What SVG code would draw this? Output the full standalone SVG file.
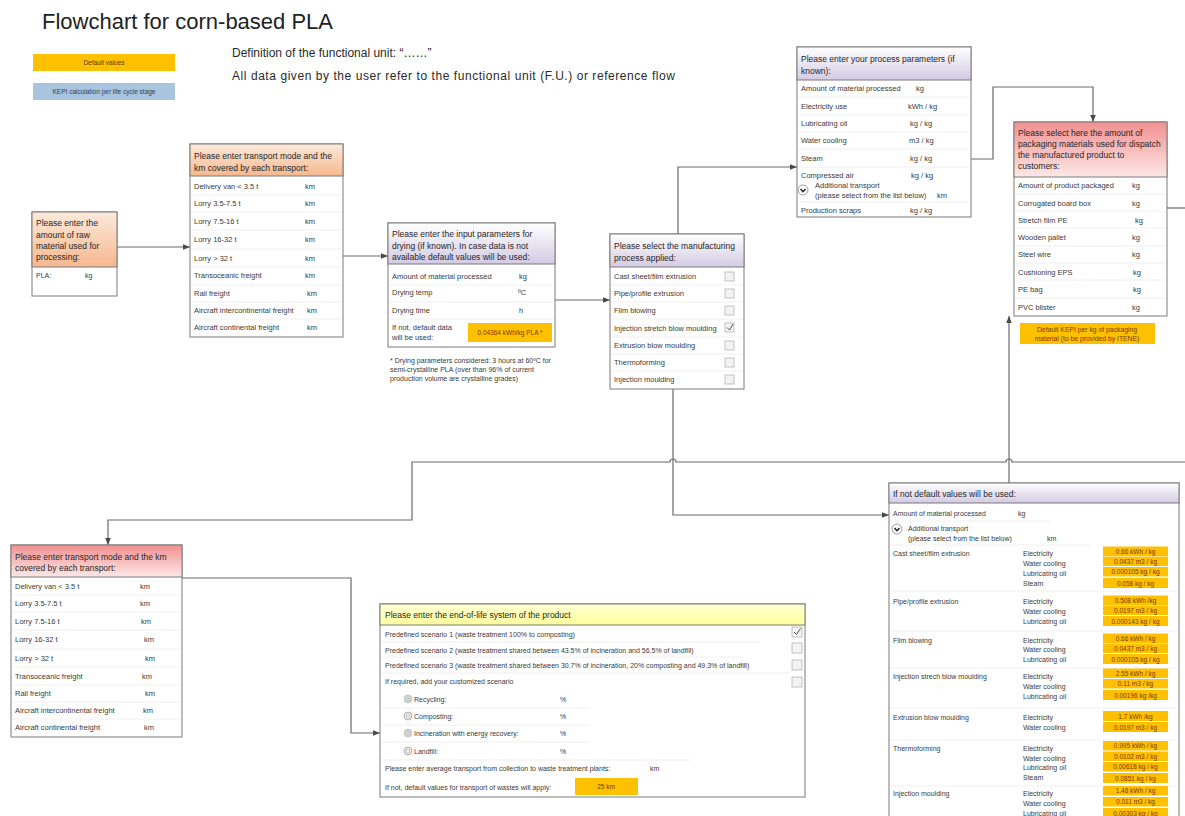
<svg xmlns="http://www.w3.org/2000/svg" width="1185" height="816" viewBox="0 0 1185 816">
<defs>
<linearGradient id="gOr" x1="0" y1="0" x2="0" y2="1"><stop offset="0" stop-color="#fdeadb"/><stop offset="1" stop-color="#f5b88f"/></linearGradient>
<linearGradient id="gPu" x1="0" y1="0" x2="0" y2="1"><stop offset="0" stop-color="#ffffff"/><stop offset="1" stop-color="#d3cbe4"/></linearGradient>
<linearGradient id="gRe" x1="0" y1="0" x2="0" y2="1"><stop offset="0" stop-color="#f29090"/><stop offset="1" stop-color="#fde8e8"/></linearGradient>
<linearGradient id="gYe" x1="0" y1="0" x2="0" y2="1"><stop offset="0" stop-color="#ffffd4"/><stop offset="1" stop-color="#ffff9c"/></linearGradient>
<marker id="arr" viewBox="0 0 10 10" refX="10" refY="5" markerWidth="7" markerHeight="7" orient="auto" markerUnits="userSpaceOnUse"><path d="M0,1 L10,5 L0,9 z" fill="#4a4a4a"/></marker>
</defs>
<style>
text{font-family:"Liberation Sans",Arial,sans-serif;fill:#3a3a3a}
.box{fill:#ffffff;stroke:#7a7a7a;stroke-width:1}
.hb{stroke:#7a7a7a;stroke-width:1}
.h{font-size:8.5px;fill:#262626}
.r{font-size:7.5px}
.s{font-size:7px}
.sep{stroke:#ececec;stroke-width:0.8}
.conn{fill:none;stroke:#6a6a6a;stroke-width:1.2}
.val{fill:#ffc000}
.vt{font-size:6.5px;fill:#7a3a00;text-anchor:middle}
.cb{fill:#f3f3f3;stroke:#b5b5b5;stroke-width:0.8}
.ck{fill:none;stroke:#555;stroke-width:1}
</style>
<rect x="0" y="0" width="1185" height="816" fill="#ffffff"/>

<g id="header">
<text x="42" y="29" style="font-size:22px;fill:#222">Flowchart for corn-based PLA</text>
<text x="232" y="57" style="font-size:12px;fill:#2a2a2a">Definition of the functional unit: “……”</text>
<text x="232" y="80" style="font-size:12px;fill:#2a2a2a" textLength="443">All data given by the user refer to the functional unit (F.U.) or reference flow</text>
</g>

<g id="legend">
<rect x="33" y="54" width="142" height="17" fill="#ffc000"/>
<text x="104" y="65" style="font-size:6.5px;fill:#5a3a00" text-anchor="middle">Default values</text>
<rect x="33" y="83" width="142" height="17" fill="#a9c4df"/>
<text x="104" y="94" style="font-size:6.5px;fill:#2f3f55" text-anchor="middle">KEPI calculation per life cycle stage</text>
</g>

<g id="connectors">
<path class="conn" d="M117,247 H190" marker-end="url(#arr)"/>
<path class="conn" d="M337,256 H388" marker-end="url(#arr)"/>
<path class="conn" d="M555,300 H610" marker-end="url(#arr)"/>
<path class="conn" d="M678,234 V167 H797" marker-end="url(#arr)"/>
<path class="conn" d="M971,159 H993 V87 H1093 V122" marker-end="url(#arr)"/>
<path class="conn" d="M1167,208 H1185"/>
<path class="conn" d="M1185,462 H1012 A3,3 0 0 0 1006,462 H676 A3,3 0 0 0 670,462 H412 V520 H108 V545" marker-end="url(#arr)"/>
<path class="conn" d="M673,389 V515 H889" marker-end="url(#arr)"/>
<path class="conn" d="M1009,483 V316" marker-end="url(#arr)"/>
<path class="conn" d="M182,578 H351 V733 H380" marker-end="url(#arr)"/>
</g>

<g id="raw-material">
<rect x="32" y="212" width="85" height="84" class="box"/>
<rect x="32" y="212" width="85" height="55" fill="url(#gOr)" class="hb"/>
<text class="h" x="36" y="226">Please enter the</text>
<text class="h" x="36" y="238">amount of raw</text>
<text class="h" x="36" y="249">material used for</text>
<text class="h" x="36" y="260">processing:</text>
<text class="s" x="36" y="278">PLA:</text>
<text class="s" x="85" y="278">kg</text>
</g>

<g id="transport-1">
<rect x="190" y="144" width="153" height="193" class="box"/>
<rect x="190" y="144" width="153" height="32" fill="url(#gOr)" class="hb"/>
<text class="h" x="194" y="159">Please enter transport mode and the</text>
<text class="h" x="194" y="171">km covered by each transport:</text>
<g class="sep"><line x1="191" y1="195" x2="342" y2="195"/><line x1="191" y1="212" x2="342" y2="212"/><line x1="191" y1="230" x2="342" y2="230"/><line x1="191" y1="249" x2="342" y2="249"/><line x1="191" y1="267" x2="342" y2="267"/><line x1="191" y1="285" x2="342" y2="285"/><line x1="191" y1="302" x2="342" y2="302"/><line x1="191" y1="319" x2="342" y2="319"/></g>
<text class="r" x="194" y="189">Delivery van &lt; 3.5 t</text><text class="r" x="305" y="189">km</text>
<text class="r" x="194" y="206">Lorry 3.5-7.5 t</text><text class="r" x="305" y="206">km</text>
<text class="r" x="194" y="224">Lorry 7.5-16 t</text><text class="r" x="305" y="224">km</text>
<text class="r" x="194" y="242">Lorry 16-32 t</text><text class="r" x="305" y="242">km</text>
<text class="r" x="194" y="261">Lorry &gt; 32 t</text><text class="r" x="305" y="261">km</text>
<text class="r" x="194" y="278">Transoceanic  freight</text><text class="r" x="305" y="278">km</text>
<text class="r" x="194" y="296">Rail freight</text><text class="r" x="307" y="296">km</text>
<text class="r" x="194" y="313">Aircraft intercontinental freight</text><text class="r" x="307" y="313">km</text>
<text class="r" x="194" y="330">Aircraft continental freight</text><text class="r" x="307" y="330">km</text>
</g>

<g id="drying">
<rect x="388" y="223" width="167" height="124" class="box"/>
<rect x="388" y="223" width="167" height="41" fill="url(#gPu)" class="hb"/>
<text class="h" x="392" y="237">Please enter the input parameters for</text>
<text class="h" x="392" y="249">drying (if known). In case data is not</text>
<text class="h" x="392" y="260">available default values will be used:</text>
<g class="sep"><line x1="389" y1="285" x2="554" y2="285"/><line x1="389" y1="302" x2="554" y2="302"/><line x1="389" y1="319" x2="554" y2="319"/></g>
<text class="r" x="392" y="279">Amount of material processed</text><text class="r" x="519" y="279">kg</text>
<text class="r" x="392" y="295">Drying temp</text><text class="r" x="518" y="295">ºC</text>
<text class="r" x="392" y="313">Drying time</text><text class="r" x="519" y="313">h</text>
<text class="r" x="392" y="330">If not, default data</text>
<text class="r" x="392" y="340">will be used:</text>
<rect class="val" x="468" y="323" width="84" height="19"/>
<text class="vt" x="510" y="335">0.04364 kWh/kg PLA *</text>
</g>

<g id="drying-note">
<text class="s" x="390" y="363">* Drying parameters considered: 3 hours at 60ºC for</text>
<text class="s" x="390" y="372">semi-crystalline PLA (over than 96% of current</text>
<text class="s" x="390" y="381">production volume are crystalline grades)</text>
</g>

<g id="manufacturing">
<rect x="610" y="234" width="134" height="155" class="box"/>
<rect x="610" y="234" width="134" height="33" fill="url(#gPu)" class="hb"/>
<text class="h" x="614" y="249">Please select the manufacturing</text>
<text class="h" x="614" y="261">process applied:</text>
<g class="sep"><line x1="611" y1="285" x2="743" y2="285"/><line x1="611" y1="302" x2="743" y2="302"/><line x1="611" y1="319" x2="743" y2="319"/><line x1="611" y1="337" x2="743" y2="337"/><line x1="611" y1="354" x2="743" y2="354"/><line x1="611" y1="371" x2="743" y2="371"/></g>
<text class="r" x="614" y="279">Cast sheet/film extrusion</text><rect class="cb" x="725" y="272" width="9" height="9"/>
<text class="r" x="614" y="296">Pipe/profile extrusion</text><rect class="cb" x="725" y="289" width="9" height="9"/>
<text class="r" x="614" y="313">Film blowing</text><rect class="cb" x="725" y="306" width="9" height="9"/>
<text class="r" x="614" y="331">Injection stretch blow moulding</text><rect class="cb" x="725" y="323" width="9" height="9"/><path class="ck" d="M727,327.5 L729.5,330 L733,324"/>
<text class="r" x="614" y="348">Extrusion blow moulding</text><rect class="cb" x="725" y="341" width="9" height="9"/>
<text class="r" x="614" y="365">Thermoforming</text><rect class="cb" x="725" y="358" width="9" height="9"/>
<text class="r" x="614" y="382">Injection moulding</text><rect class="cb" x="725" y="375" width="9" height="9"/>
</g>

<g id="process-parameters">
<rect x="797" y="47" width="174" height="170" class="box"/>
<rect x="797" y="47" width="174" height="33" fill="url(#gPu)" class="hb"/>
<text class="h" x="801" y="62">Please enter your process parameters (if</text>
<text class="h" x="801" y="74">known):</text>
<g class="sep"><line x1="798" y1="97" x2="970" y2="97"/><line x1="798" y1="115" x2="970" y2="115"/><line x1="798" y1="132" x2="970" y2="132"/><line x1="798" y1="149" x2="970" y2="149"/><line x1="798" y1="167" x2="970" y2="167"/><line x1="798" y1="202" x2="970" y2="202"/></g>
<text class="r" x="801" y="91">Amount of material processed</text><text class="r" x="916" y="91">kg</text>
<text class="r" x="801" y="109">Electricity use</text><text class="r" x="908" y="109">kWh / kg</text>
<text class="r" x="801" y="126">Lubricating oil</text><text class="r" x="910" y="126">kg / kg</text>
<text class="r" x="801" y="143">Water cooling</text><text class="r" x="909" y="143">m3 / kg</text>
<text class="r" x="801" y="161">Steam</text><text class="r" x="910" y="161">kg / kg</text>
<text class="r" x="801" y="178">Compressed air</text><text class="r" x="911" y="178">kg / kg</text>
<circle cx="803" cy="190" r="5" fill="#fbfbfb" stroke="#8a8a8a" stroke-width="0.8"/><path d="M800.5,189 L803,191.8 L805.5,189" fill="none" stroke="#222" stroke-width="1.4"/>
<text class="r" x="815" y="188">Additional transport</text>
<text class="r" x="815" y="198">(please select from the list below)</text><text class="r" x="937" y="198">km</text>
<text class="r" x="801" y="213">Production scraps</text><text class="r" x="910" y="213">kg / kg</text>
</g>

<g id="packaging">
<rect x="1014" y="122" width="153" height="194" class="box"/>
<rect x="1014" y="122" width="153" height="55" fill="url(#gRe)" class="hb"/>
<text class="h" x="1018" y="136">Please select here the amount of</text>
<text class="h" x="1018" y="147">packaging materials used for dispatch</text>
<text class="h" x="1018" y="158">the manufactured product to</text>
<text class="h" x="1018" y="169">customers:</text>
<g class="sep"><line x1="1015" y1="194" x2="1166" y2="194"/><line x1="1015" y1="211" x2="1166" y2="211"/><line x1="1015" y1="228" x2="1166" y2="228"/><line x1="1015" y1="246" x2="1166" y2="246"/><line x1="1015" y1="263" x2="1166" y2="263"/><line x1="1015" y1="280" x2="1166" y2="280"/><line x1="1015" y1="298" x2="1166" y2="298"/></g>
<text class="r" x="1018" y="188">Amount of product packaged</text><text class="r" x="1132" y="188">kg</text>
<text class="r" x="1018" y="206">Corrugated board box</text><text class="r" x="1132" y="206">kg</text>
<text class="r" x="1018" y="223">Stretch film PE</text><text class="r" x="1135" y="223">kg</text>
<text class="r" x="1018" y="240">Wooden pallet</text><text class="r" x="1132" y="240">kg</text>
<text class="r" x="1018" y="257">Steel wire</text><text class="r" x="1132" y="257">kg</text>
<text class="r" x="1018" y="275">Cushioning EPS</text><text class="r" x="1133" y="275">kg</text>
<text class="r" x="1018" y="292">PE bag</text><text class="r" x="1133" y="292">kg</text>
<text class="r" x="1018" y="310">PVC blister</text><text class="r" x="1132" y="310">kg</text>
</g>

<g id="packaging-default">
<rect class="val" x="1020" y="323" width="135" height="21"/>
<text class="vt" x="1087" y="332" style="font-size:6.8px">Default KEPI per kg of packaging</text>
<text class="vt" x="1087" y="341" style="font-size:6.8px">material (to be provided by ITENE)</text>
</g>

<g id="transport-2">
<rect x="11" y="545" width="171" height="192" class="box"/>
<rect x="11" y="545" width="171" height="32" fill="url(#gRe)" class="hb"/>
<text class="h" x="15" y="560">Please enter transport mode and the km</text>
<text class="h" x="15" y="571">covered by each transport:</text>
<g class="sep"><line x1="12" y1="595" x2="181" y2="595"/><line x1="12" y1="612" x2="181" y2="612"/><line x1="12" y1="630" x2="181" y2="630"/><line x1="12" y1="649" x2="181" y2="649"/><line x1="12" y1="667" x2="181" y2="667"/><line x1="12" y1="685" x2="181" y2="685"/><line x1="12" y1="702" x2="181" y2="702"/><line x1="12" y1="719" x2="181" y2="719"/></g>
<text class="r" x="15" y="589">Delivery van &lt; 3.5 t</text><text class="r" x="140" y="589">km</text>
<text class="r" x="15" y="606">Lorry 3.5-7.5 t</text><text class="r" x="140" y="606">km</text>
<text class="r" x="15" y="624">Lorry 7.5-16 t</text><text class="r" x="141" y="624">km</text>
<text class="r" x="15" y="642">Lorry 16-32 t</text><text class="r" x="144" y="642">km</text>
<text class="r" x="15" y="661">Lorry &gt; 32 t</text><text class="r" x="145" y="661">km</text>
<text class="r" x="15" y="679">Transoceanic  freight</text><text class="r" x="142" y="679">km</text>
<text class="r" x="15" y="696">Rail freight</text><text class="r" x="145" y="696">km</text>
<text class="r" x="15" y="713">Aircraft intercontinental freight</text><text class="r" x="143" y="713">km</text>
<text class="r" x="15" y="730">Aircraft continental freight</text><text class="r" x="144" y="730">km</text>
</g>

<g id="end-of-life">
<rect x="380" y="604" width="425" height="193" class="box"/>
<rect x="380" y="604" width="425" height="21" fill="url(#gYe)" class="hb"/>
<text class="h" x="385" y="618">Please enter the end-of-life system of the product</text>
<g class="sep"><line x1="381" y1="642" x2="760" y2="642"/><line x1="381" y1="657" x2="740" y2="657"/><line x1="381" y1="673" x2="790" y2="673"/><line x1="381" y1="708" x2="590" y2="708"/><line x1="381" y1="725" x2="590" y2="725"/><line x1="381" y1="742" x2="590" y2="742"/><line x1="381" y1="760" x2="690" y2="760"/></g>
<text class="s" x="385" y="637">Predefined scenario 1 (waste treatment 100% to composting)</text>
<text class="s" x="385" y="653">Predefined scenario 2 (waste treatment shared between 43.5% of incineration and 56.5% of landfill)</text>
<text class="s" x="385" y="668">Predefined scenario 3 (waste treatment shared between 30.7% of incineration, 20% composting and 49.3% of landfill)</text>
<text class="s" x="385" y="684">If required, add your customized scenario</text>
<rect class="cb" x="792" y="627" width="10" height="10"/><path class="ck" d="M794,632 L796.5,634.5 L800.5,628.5"/>
<rect class="cb" x="792" y="643" width="10" height="10"/>
<rect class="cb" x="792" y="660" width="10" height="10"/>
<rect class="cb" x="792" y="677" width="10" height="10"/>
<circle cx="408" cy="699" r="4" fill="#cfcfcf" stroke="#bdbdbd" stroke-width="0.6"/>
<circle cx="408" cy="716" r="4" fill="#f2f2f2" stroke="#9a9a9a" stroke-width="0.8"/><circle cx="408" cy="716" r="2" fill="none" stroke="#9a9a9a" stroke-width="0.6"/>
<circle cx="408" cy="733" r="4" fill="#cfcfcf" stroke="#bdbdbd" stroke-width="0.6"/>
<circle cx="408" cy="751" r="4" fill="#f2f2f2" stroke="#9a9a9a" stroke-width="0.8"/><circle cx="408" cy="751" r="2" fill="none" stroke="#9a9a9a" stroke-width="0.6"/>
<text class="s" x="414" y="702">Recycling:</text><text class="s" x="560" y="702">%</text>
<text class="s" x="414" y="719">Composting:</text><text class="s" x="560" y="719">%</text>
<text class="s" x="414" y="736">Incineration with energy recovery:</text><text class="s" x="560" y="736">%</text>
<text class="s" x="414" y="754">Landfill:</text><text class="s" x="560" y="754">%</text>
<text class="s" x="385" y="771">Please enter average transport from collection to waste treatment plants:</text><text class="s" x="650" y="771">km</text>
<text class="s" x="385" y="790">If not, default values for transport of wastes will apply:</text>
<rect class="val" x="575" y="778" width="63" height="17"/>
<text class="vt" x="606" y="789">25 km</text>
</g>

<g id="default-values">
<rect x="889" y="483" width="290" height="345" class="box"/>
<rect x="889" y="483" width="290" height="20" fill="url(#gPu)" class="hb"/>
<text class="h" x="893" y="497">If not default values will be used:</text>
<g class="sep"><line x1="890" y1="521" x2="1050" y2="521"/><line x1="890" y1="545" x2="1090" y2="545"/><line x1="890" y1="591" x2="1178" y2="591"/><line x1="890" y1="631" x2="1178" y2="631"/><line x1="890" y1="668" x2="1178" y2="668"/><line x1="890" y1="708" x2="1178" y2="708"/><line x1="890" y1="740" x2="1178" y2="740"/><line x1="890" y1="786" x2="1178" y2="786"/></g>
<text class="s" x="893" y="516">Amount of material processed</text><text class="s" x="1018" y="516">kg</text>
<circle cx="897" cy="529" r="5" fill="#fbfbfb" stroke="#8a8a8a" stroke-width="0.8"/><path d="M894.5,528 L897,530.8 L899.5,528" fill="none" stroke="#222" stroke-width="1.4"/>
<text class="s" x="908" y="531">Additional transport</text>
<text class="s" x="908" y="541">(please select from the list below)</text><text class="s" x="1047" y="541">km</text>

<text class="s" x="893" y="556">Cast sheet/film extrusion</text>
<text class="s" x="1023" y="556">Electricity</text><text class="s" x="1023" y="566">Water cooling</text><text class="s" x="1023" y="576">Lubricating oil</text><text class="s" x="1023" y="586">Steam</text>
<rect class="val" x="1103" y="546.5" width="65" height="9.5"/><text class="vt" x="1135.5" y="553.5">0.66 kWh / kg</text>
<rect class="val" x="1103" y="556.5" width="65" height="9.5"/><text class="vt" x="1135.5" y="563.5">0.0437 m3 / kg</text>
<rect class="val" x="1103" y="567" width="65" height="9.5"/><text class="vt" x="1135.5" y="574">0.000105 kg / kg</text>
<rect class="val" x="1103" y="578" width="65" height="10"/><text class="vt" x="1135.5" y="585.5">0.058 kg / kg</text>

<text class="s" x="893" y="604">Pipe/profile extrusion</text>
<text class="s" x="1023" y="604">Electricity</text><text class="s" x="1023" y="614">Water cooling</text><text class="s" x="1023" y="624">Lubricating oil</text>
<rect class="val" x="1103" y="595.5" width="65" height="9.5"/><text class="vt" x="1135.5" y="602.5">0.508 kWh /kg</text>
<rect class="val" x="1103" y="605.5" width="65" height="9.5"/><text class="vt" x="1135.5" y="612.5">0.0197 m3 / kg</text>
<rect class="val" x="1103" y="616" width="65" height="10"/><text class="vt" x="1135.5" y="623.5">0.000143 kg / kg</text>

<text class="s" x="893" y="643">Film blowing</text>
<text class="s" x="1023" y="643">Electricity</text><text class="s" x="1023" y="652">Water cooling</text><text class="s" x="1023" y="662">Lubricating oil</text>
<rect class="val" x="1103" y="633.5" width="65" height="9.5"/><text class="vt" x="1135.5" y="640.5">0.66 kWh / kg</text>
<rect class="val" x="1103" y="643.5" width="65" height="9.5"/><text class="vt" x="1135.5" y="650.5">0.0437 m3 / kg</text>
<rect class="val" x="1103" y="654" width="65" height="10"/><text class="vt" x="1135.5" y="661.5">0.000105 kg / kg</text>

<text class="s" x="893" y="679">Injection strech blow moulding</text>
<text class="s" x="1023" y="679">Electricity</text><text class="s" x="1023" y="689">Water cooling</text><text class="s" x="1023" y="699">Lubricating oil</text>
<rect class="val" x="1103" y="668.5" width="65" height="9.5"/><text class="vt" x="1135.5" y="675.5">2.55 kWh / kg</text>
<rect class="val" x="1103" y="679" width="65" height="9.5"/><text class="vt" x="1135.5" y="686">0.11 m3 / kg</text>
<rect class="val" x="1103" y="690" width="65" height="10"/><text class="vt" x="1135.5" y="697.5">0.00196 kg /kg</text>

<text class="s" x="893" y="720">Extrusion blow moulding</text>
<text class="s" x="1023" y="720">Electricity</text><text class="s" x="1023" y="730">Water cooling</text>
<rect class="val" x="1103" y="711" width="65" height="10"/><text class="vt" x="1135.5" y="718.5">1.7 kWh /kg</text>
<rect class="val" x="1103" y="722" width="65" height="10"/><text class="vt" x="1135.5" y="729.5">0.0197 m3 / kg</text>

<text class="s" x="893" y="751">Thermoforming</text>
<text class="s" x="1023" y="751">Electricity</text><text class="s" x="1023" y="761">Water cooling</text><text class="s" x="1023" y="770">Lubricating oil</text><text class="s" x="1023" y="780">Steam</text>
<rect class="val" x="1103" y="741" width="65" height="9.5"/><text class="vt" x="1135.5" y="748">0.995 kWh / kg</text>
<rect class="val" x="1103" y="751.5" width="65" height="9.5"/><text class="vt" x="1135.5" y="758.5">0.0102 m3 / kg</text>
<rect class="val" x="1103" y="762" width="65" height="9.5"/><text class="vt" x="1135.5" y="769">0.00618 kg / kg</text>
<rect class="val" x="1103" y="773" width="65" height="10"/><text class="vt" x="1135.5" y="780.5">0.0851 kg / kg</text>

<text class="s" x="893" y="796">Injection moulding</text>
<text class="s" x="1023" y="796">Electricity</text><text class="s" x="1023" y="806">Water cooling</text><text class="s" x="1023" y="816">Lubricating oil</text>
<rect class="val" x="1103" y="786" width="65" height="9.5"/><text class="vt" x="1135.5" y="793">1.48 kWh / kg</text>
<rect class="val" x="1103" y="797" width="65" height="9.5"/><text class="vt" x="1135.5" y="804">0.011 m3 / kg</text>
<rect class="val" x="1103" y="808" width="65" height="10"/><text class="vt" x="1135.5" y="815.5">0.00303 kg / kg</text>
</g>
</svg>
